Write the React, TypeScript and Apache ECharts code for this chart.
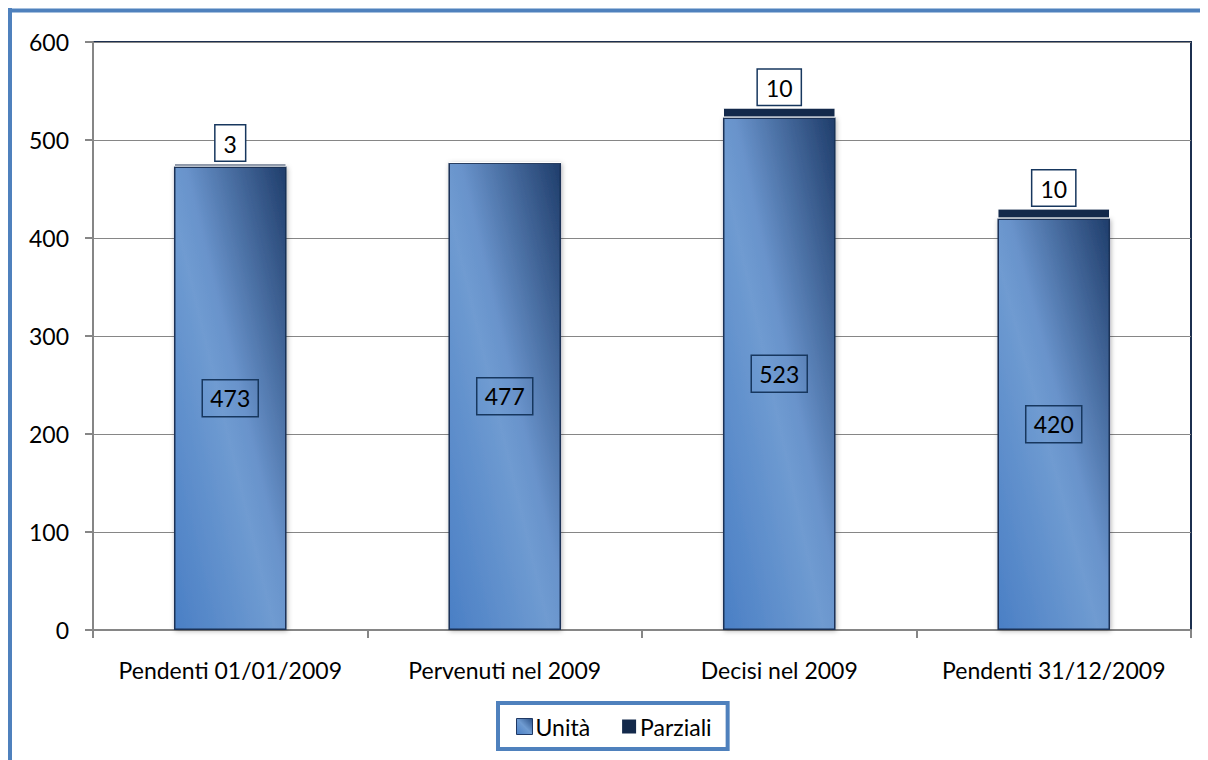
import React, { useEffect, useRef } from "react";
import * as echarts from "echarts";

const categories = ["Pendenti 01/01/2009", "Pervenuti nel 2009", "Decisi nel 2009", "Pendenti 31/12/2009"];
const unita = [473, 477, 523, 420];
const parziali = [3, 0, 10, 10];
const yTicks = { min: 0, max: 600, interval: 100 };

const FONT = "Lato, 'Open Sans', sans-serif";
const FS = 23;

export default function App() {
  const ref = useRef<HTMLDivElement>(null);
  useEffect(() => {
    document.body.style.margin = "8px";
    const chart = echarts.init(ref.current!, null, { renderer: "svg" });
    const unitaGradient = new echarts.graphic.LinearGradient(0, 1, 1, 0, [
      { offset: 0, color: "#4a7fc5" },
      { offset: 0.45, color: "#6f9bd1" },
      { offset: 0.55, color: "#6993cb" },
      { offset: 1, color: "#1f3d6b" },
    ]);
    const iconGradient = new echarts.graphic.LinearGradient(0, 1, 1, 0, [
      { offset: 0, color: "#4a7fc5" },
      { offset: 0.5, color: "#6f9bd1" },
      { offset: 1, color: "#2a4f85" },
    ]);
    const option: any = {
      animation: false,
      backgroundColor: "#ffffff",
      textStyle: { fontFamily: FONT },
      grid: {
        left: 85,
        right: 17,
        top: 34,
        bottom: 130,
        show: true,
        borderColor: "#1c2f4f",
        borderWidth: 2,
        backgroundColor: "transparent",
      },
      legend: {
        bottom: 11,
        left: 490,
        data: [
          { name: "Unità", icon: "rect", itemStyle: { color: iconGradient, borderColor: "#1f3864", borderWidth: 1 } },
          { name: "Parziali", icon: "rect" },
        ],
        itemWidth: 16,
        itemHeight: 16,
        itemGap: 30,
        padding: [12, 16, 11, 18],
        borderColor: "#4f81bd",
        borderWidth: 4,
        backgroundColor: "#ffffff",
        textStyle: { fontSize: FS, color: "#000", fontFamily: FONT, padding: [0, 0, 0, -2] },
      },
      xAxis: {
        type: "category",
        data: categories,
        axisLine: { lineStyle: { color: "#868686", width: 2 } },
        axisTick: { show: true, interval: 0, length: 8, lineStyle: { color: "#868686", width: 2 } },
        axisLabel: { interval: 0, fontSize: FS, color: "#000", margin: 28, fontFamily: FONT },
      },
      yAxis: {
        type: "value",
        min: yTicks.min,
        max: yTicks.max,
        interval: yTicks.interval,
        axisLine: { show: true, lineStyle: { color: "#868686", width: 2 } },
        axisTick: { show: true, length: 8, lineStyle: { color: "#868686", width: 2 } },
        splitLine: { lineStyle: { color: "#868686", width: 1 } },
        axisLabel: { fontSize: FS, color: "#000", margin: 24, fontFamily: FONT },
      },
      series: [
        {
          name: "Unità",
          type: "bar",
          stack: "tot",
          barWidth: "41%",
          data: unita,
          itemStyle: {
            color: unitaGradient,
            borderColor: "#1a3257",
            borderWidth: 1.5,
            shadowBlur: 5,
            shadowColor: "rgba(0,0,0,0.3)",
            shadowOffsetX: 1,
            shadowOffsetY: 1,
          },
          label: {
            show: true,
            position: "inside",
            fontSize: FS,
            color: "#000",
            fontFamily: FONT,
            borderColor: "#17375e",
            borderWidth: 1.5,
            padding: [8, 8, 6, 8],
          },
        },
        {
          name: "Parziali",
          type: "bar",
          stack: "tot",
          barWidth: "41%",
          data: parziali.map((v) => ({ value: v, label: { show: v > 0 } })),
          itemStyle: {
            color: "#13294b",
            borderColor: "#ffffff",
            borderWidth: 1,
          },
          label: {
            show: true,
            position: "top",
            distance: 3,
            fontSize: FS,
            color: "#000",
            fontFamily: FONT,
            backgroundColor: "#ffffff",
            borderColor: "#17375e",
            borderWidth: 1.5,
            padding: [7, 8, 5, 8],
          },
        },
      ],
      graphic: [
        { type: "line", shape: { x1: 0, y1: 2.5, x2: 1200, y2: 2.5 }, style: { stroke: "#4f81bd", lineWidth: 4 }, z: 100 },
        { type: "line", shape: { x1: 2, y1: 0, x2: 2, y2: 752 }, style: { stroke: "#4f81bd", lineWidth: 4 }, z: 100 },
      ],
    };
    chart.setOption(option);
    return () => chart.dispose();
  }, []);
  return <div ref={ref} style={{ width: 1200, height: 752 }} />;
}
